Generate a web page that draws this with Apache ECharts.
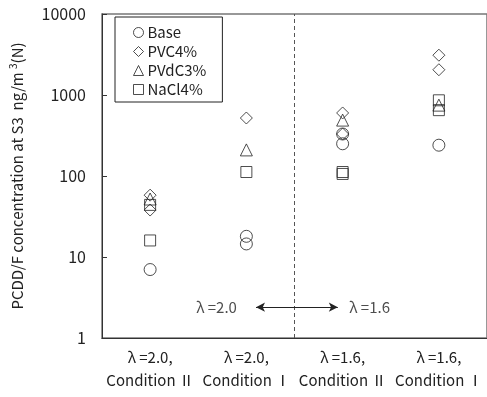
<!DOCTYPE html>
<html>
<head>
<meta charset="utf-8">
<script src="https://cdn.jsdelivr.net/npm/echarts@6/dist/echarts.min.js"></script>
<style>
  html, body { margin: 0; padding: 0; background: #fff; }
  #main { width: 487px; height: 397px; }
</style>
</head>
<body>
<div id="main"></div>
<script>
// categories (x axis)
var categories = ['λ =2.0,\nCondition Ⅱ', 'λ =2.0,\nCondition Ⅰ', 'λ =1.6,\nCondition Ⅱ', 'λ =1.6,\nCondition Ⅰ'];
var yTicks = [1, 10, 100, 1000, 10000];

// measured values, [categoryIndex, value]
var baseData  = [[0, 7], [1, 18], [1, 14.5], [2, 330], [2, 250], [3, 240]];
var pvcData   = [[0, 58], [0, 38], [1, 520], [2, 600], [2, 330], [3, 3100], [3, 2050]];
var pvdcData  = [[0, 52], [1, 210], [2, 490], [3, 750]];
var naclData  = [[0, 44], [0, 16], [1, 112], [2, 112], [2, 106], [3, 860], [3, 650]];

// lambda annotation (hidden value axis 0..4)
var splitX = 2;
var arrowFrom = 1.6, arrowTo = 2.45, arrowY = 2.4;
var lambdaLabels = [[1.19, 2.4, 'λ =2.0'], [2.78, 2.4, 'λ =1.6']];

var chart = echarts.init(document.getElementById('main'));

function hollow(name, symbol, size, data) {
  return {
    name: name,
    type: 'scatter',
    symbol: symbol,
    symbolSize: size,
    data: data,
    itemStyle: { color: 'rgba(0,0,0,0)', borderColor: '#222', borderWidth: 1 },
    emphasis: { disabled: true }
  };
}

var option = {
  backgroundColor: '#fff',
  animation: false,
  textStyle: { fontFamily: '"Noto Sans CJK JP", "Noto Sans", sans-serif' },
  grid: { left: 100, top: 14, right: -5, bottom: 59, show: true, borderColor: '#777', borderWidth: 1.5 },
  legend: {
    orient: 'vertical',
    left: 115,
    top: 17,
    padding: [8, 16, 5, 18],
    itemGap: 4,
    itemWidth: 10,
    itemHeight: 10,
    itemStyle: { color: 'rgba(0,0,0,0)', borderColor: '#222', borderWidth: 1 },
    backgroundColor: '#fff',
    borderColor: '#222',
    borderWidth: 1,
    textStyle: { fontSize: 15, color: '#222', padding: [0, 0, 0, -1] },
    data: ['Base', 'PVC4%', 'PVdC3%', 'NaCl4%']
  },
  xAxis: [{
    type: 'category',
    data: categories,
    boundaryGap: true,
    axisLine: { lineStyle: { color: '#333', width: 1 } },
    axisTick: { inside: true, length: 5, lineStyle: { color: '#333' } },
    axisLabel: { interval: 0, color: '#222', fontSize: 15, lineHeight: 23, margin: 8 },
    splitLine: { show: false }
  }, {
    type: 'value',
    min: 0, max: 4,
    show: false
  }],
  yAxis: {
    type: 'log',
    min: 1, max: 10000,
    logBase: 10,
    name: 'PCDD/F concentration at S3  ng/m {sup|3}(N)',
    nameLocation: 'middle',
    nameGap: 76,
    nameTextStyle: { color: '#222', fontSize: 15, rich: { sup: { fontSize: 10, verticalAlign: 'top', padding: [0, 0, 8, 0] } } },
    axisLine: { show: true, lineStyle: { color: '#333', width: 1 } },
    axisTick: { inside: true, length: 5, lineStyle: { color: '#333' } },
    axisLabel: {
      color: '#222', fontSize: 16, margin: 16,
      formatter: function (v) { return yTicks.indexOf(v) >= 0 ? String(v) : ''; }
    },
    splitLine: { show: false }
  },
  series: [
    hollow('Base', 'circle', 12, baseData),
    hollow('PVC4%', 'diamond', 12, pvcData),
    hollow('PVdC3%', 'triangle', 12, pvdcData),
    hollow('NaCl4%', 'rect', 11, naclData),
    {
      type: 'line',
      xAxisIndex: 1,
      data: [],
      silent: true,
      markLine: {
        silent: true,
        symbol: ['none', 'none'],
        label: { show: false },
        lineStyle: { color: '#555', type: [4, 3], width: 1 },
        data: [{ xAxis: splitX }]
      }
    },
    {
      type: 'line',
      xAxisIndex: 1,
      data: [],
      silent: true,
      markLine: {
        silent: true,
        symbol: ['arrow', 'arrow'],
        symbolSize: [7, 9],
        label: { show: false },
        lineStyle: { color: '#222', type: 'solid', width: 1.2 },
        data: [[{ coord: [arrowFrom, arrowY] }, { coord: [arrowTo, arrowY] }]]
      }
    },
    {
      type: 'scatter',
      xAxisIndex: 1,
      symbolSize: 0,
      silent: true,
      data: lambdaLabels.map(function (d) { return { value: [d[0], d[1]], name: d[2] }; }),
      label: { show: true, position: 'inside', formatter: '{b}', color: '#222', fontSize: 15 }
    }
  ]
};

chart.setOption(option);
</script>
</body>
</html>
